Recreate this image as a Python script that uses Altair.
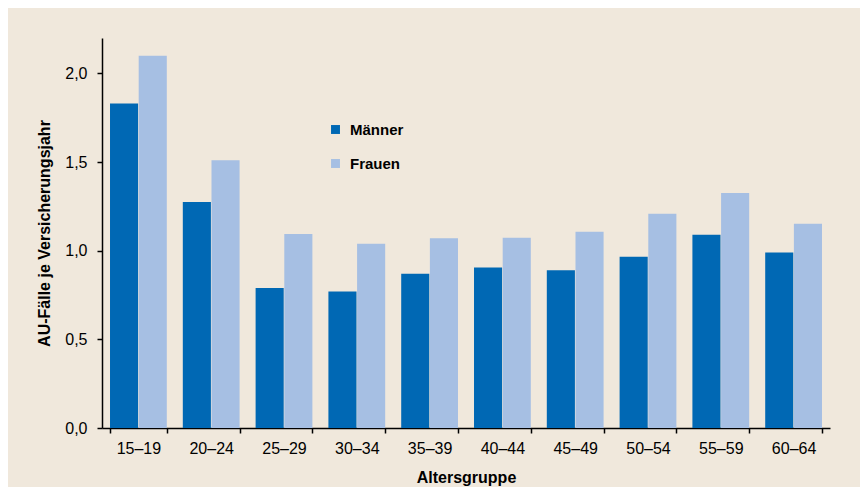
import altair as alt
import pandas as pd

groups = ["15–19", "20–24", "25–29", "30–34", "35–39", "40–44", "45–49", "50–54", "55–59", "60–64"]
maenner = [1.83, 1.275, 0.79, 0.77, 0.87, 0.905, 0.89, 0.966, 1.09, 0.99]
frauen = [2.10, 1.51, 1.095, 1.04, 1.07, 1.073, 1.107, 1.208, 1.326, 1.152]
series = ["Männer", "Frauen"]
colors = ["#0068B4", "#A6BFE3"]

rows = []
for g, m, f in zip(groups, maenner, frauen):
    rows.append({"Altersgruppe": g, "Geschlecht": "Männer", "Wert": m})
    rows.append({"Altersgruppe": g, "Geschlecht": "Frauen", "Wert": f})
df = pd.DataFrame(rows)

font = "Liberation Sans"

chart = alt.Chart(df).mark_bar(strokeWidth=0).encode(
    x=alt.X("Altersgruppe:N", sort=groups,
            scale=alt.Scale(paddingInner=0.22, paddingOuter=0.11),
            axis=alt.Axis(title="Altersgruppe", labelAngle=0, tickBand="extent",
                          domainColor="black", tickColor="black", tickSize=5,
                          labelFontSize=16, labelColor="black", labelFont=font, labelPadding=7,
                          titleFont=font, titleFontSize=16, titleFontWeight="bold",
                          titleColor="black", titlePadding=13)),
    xOffset=alt.XOffset("Geschlecht:N", sort=series, scale=alt.Scale(paddingInner=0.02)),
    y=alt.Y("Wert:Q", scale=alt.Scale(domain=[0, 2.2], nice=False),
            axis=alt.Axis(title="AU-Fälle je Versicherungsjahr", values=[0, 0.5, 1.0, 1.5, 2.0],
                          labelExpr="replace(format(datum.value, '.1f'), '.', ',')",
                          grid=False, domainColor="black", tickColor="black", tickSize=5,
                          labelFontSize=16, labelColor="black", labelFont=font, labelPadding=10,
                          titleFont=font, titleFontSize=16, titleFontWeight="bold",
                          titleColor="black", titlePadding=12)),
    color=alt.Color("Geschlecht:N", sort=series,
                    scale=alt.Scale(domain=series, range=colors),
                    legend=alt.Legend(title=None, orient="none", legendX=226, legendY=84,
                                      symbolType="square", symbolSize=80, symbolStrokeWidth=0,
                                      labelFont=font, labelFontSize=15, labelFontWeight="bold",
                                      labelColor="black", rowPadding=18, labelOffset=7)),
).properties(
    width=728, height=390,
    background="#F0E8DC",
    padding={"left": 94, "top": 30, "right": 30, "bottom": 59},
    autosize=alt.AutoSizeParams(type="none"),
).configure_view(stroke=None).configure_axis(domainWidth=1.5, tickWidth=1.5)

chart.save("out.html", embed_options={"renderer": "svg", "actions": False})
